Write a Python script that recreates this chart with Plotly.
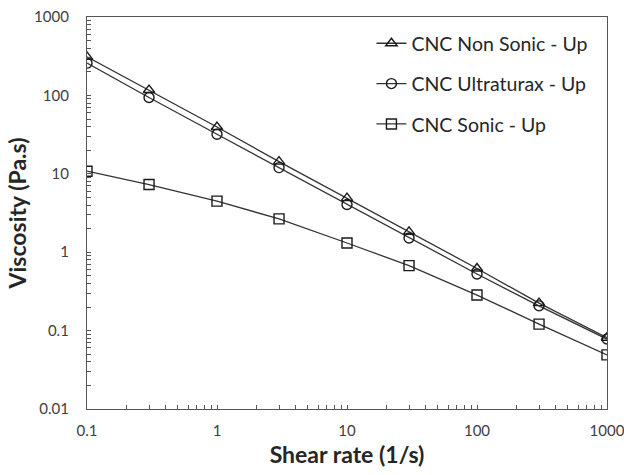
import plotly.graph_objects as go

shear_rate = [0.1, 0.3, 1, 3, 10, 30, 100, 300, 1000]
non_sonic = [310, 117, 39.5, 14.3, 4.9, 1.82, 0.62, 0.224, 0.081]
ultraturax = [258, 94, 31.9, 12.0, 4.06, 1.52, 0.527, 0.207, 0.078]
sonic = [10.8, 7.3, 4.48, 2.66, 1.31, 0.674, 0.284, 0.121, 0.049]

series = [
    ('CNC Non Sonic - Up', non_sonic, 'triangle-up-open'),
    ('CNC Ultraturax - Up', ultraturax, 'circle-open'),
    ('CNC Sonic - Up', sonic, 'square-open'),
]

# log tick positions: decades get a label, the rest are minor ticks
x_decades = [0.1, 1, 10, 100, 1000]
x_labels = ['0.1', '1', '10', '100', '1000']
y_decades = [0.01, 0.1, 1, 10, 100, 1000]
y_labels = ['0.01', '0.1', '1', '10', '100', '1000']


def log_ticks(decades, labels):
    vals, text = [], []
    for d, lab in zip(decades, labels):
        vals.append(d)
        text.append(lab)
        if d != decades[-1]:
            for m in range(2, 10):
                vals.append(d * m)
                text.append('')
    return vals, text


xv, xt = log_ticks(x_decades, x_labels)
yv, yt = log_ticks(y_decades, y_labels)

fig = go.Figure()
for i, (name, vals, sym) in enumerate(series):
    fig.add_trace(go.Scatter(
        x=shear_rate, y=vals, name=name, mode='lines+markers',
        line=dict(color='#333333', width=1.3),
        marker=dict(symbol=sym, size=10, color='#1a1a1a', line=dict(width=1.4)),
        legendgroup=str(i),
    ))

axis_common = dict(
    type='log', showgrid=False, zeroline=False, automargin=False,
    showline=True, linecolor='#555555', linewidth=1.3, mirror=True,
    ticks='inside', ticklen=4, tickcolor='#555555', tickwidth=1,
    ticklabeloverflow='allow',
    tickfont=dict(family='Lato, sans-serif', size=15, color='#404040'),
)

fig.update_layout(
    width=624, height=475,
    margin=dict(l=87, r=17, t=17, b=66),
    paper_bgcolor='white', plot_bgcolor='white',
    font=dict(family='Lato, sans-serif', color='#262626'),
    xaxis=dict(axis_common, range=[-1, 3], tickvals=xv, ticktext=xt, ticklabelstandoff=8,
               title=dict(text='<b>Shear rate (1/s)</b>', font=dict(size=23, color='#262626'), standoff=8)),
    yaxis=dict(axis_common, range=[-2, 3], tickvals=yv, ticktext=yt, ticklabelstandoff=14,
               title=dict(text='<b>Viscosity (Pa.s)</b>', font=dict(size=23, color='#262626'), standoff=0)),
    legend=dict(x=0.547, y=0.982, xanchor='left', yanchor='top',
                font=dict(size=19.5, color='#262626'), bgcolor='rgba(0,0,0,0)',
                tracegroupgap=12, itemwidth=30),
    showlegend=True,
)

# drop the default 8px body margin so the figure fills the window
fig.write_html("out.html", config={'displayModeBar': False},
               post_script="document.body.style.margin='0';document.body.style.overflow='hidden';")
